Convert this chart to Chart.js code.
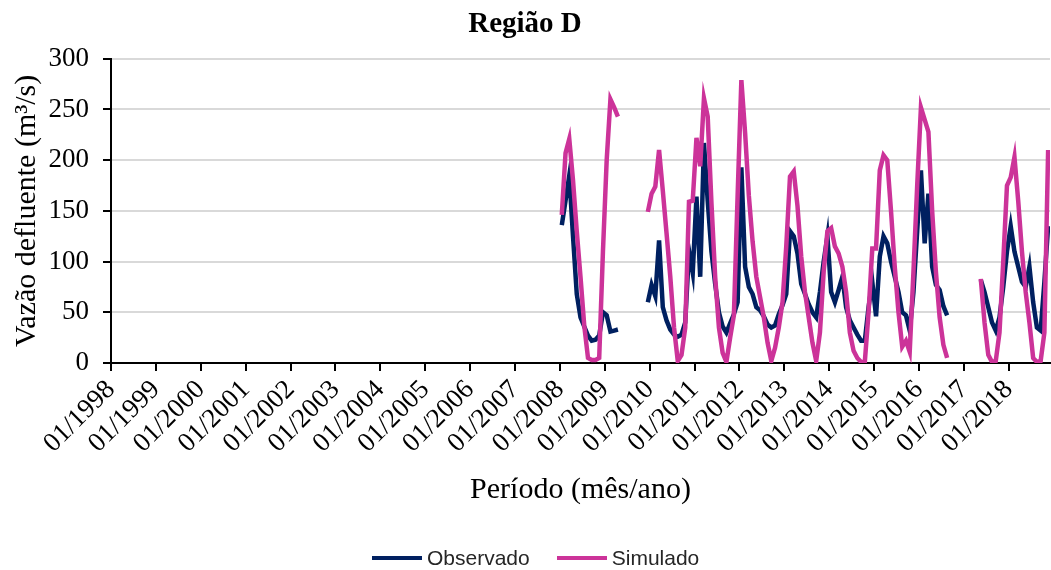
<!DOCTYPE html>
<html><head><meta charset="utf-8">
<script src="https://cdn.jsdelivr.net/npm/chart.js@4.4.1/dist/chart.umd.min.js"></script>
<style>
html,body{margin:0;padding:0;background:#fff;overflow:hidden;}
#wrap{position:relative;width:1051px;height:570px;}
#legend{position:absolute;left:372px;top:545px;height:26px;display:flex;align-items:center;gap:27px;font-family:'Liberation Sans',Arial,sans-serif;font-size:21px;color:#262626;}
.item{display:flex;align-items:center;gap:5px;}
.swatch{width:50px;height:4px;display:inline-block;}
</style></head><body>
<div id="wrap"><canvas id="c" width="1051" height="570"></canvas><div id="legend"></div></div>
<script>
const tickLabels = ['01/1998','01/1999','01/2000','01/2001','01/2002','01/2003','01/2004','01/2005','01/2006','01/2007','01/2008','01/2009','01/2010','01/2011','01/2012','01/2013','01/2014','01/2015','01/2016','01/2017','01/2018'];
const dataStart = '01/2008';
const seriesNames = ['Observado', 'Simulado'];
const seriesColors = ['#002060', '#CC3399'];

// monthly values from 01/2008 to 11/2018 (null = no data)
const observado = [
  136,160,185,125,68,45,36,27,22,23,27,50,
  47,31,32,33,null,null,null,null,null,null,null,60,
  77,66,121,55,42,33,28,26,28,40,111,89,
  164,85,217,160,110,78,50,36,30,39,48,60,
  193,95,75,68,55,52,46,38,35,37,48,57,
  68,130,125,108,78,68,58,50,45,70,100,125,
  70,60,72,85,55,42,35,28,22,22,55,80,
  46,105,125,118,100,85,70,50,47,32,70,130,
  190,118,167,95,77,72,56,47,null,null,null,null,
  null,null,null,null,82,70,55,40,32,45,75,110,
  135,110,95,80,75,95,60,35,32,80,135
];
const simulado = [
  146,207,221,180,130,85,37,5,3,3,5,110,
  200,260,252,243,null,null,null,null,null,null,null,149,
  167,174,210,170,128,85,35,2,8,35,159,160,
  222,194,261,243,158,85,35,10,1,25,47,165,
  279,227,165,120,85,65,45,20,2,15,35,60,
  115,184,189,155,105,70,45,20,2,30,90,130,
  133,115,108,95,70,30,12,5,1,1,50,113,
  113,190,205,200,150,95,50,16,22,11,90,175,
  252,240,228,150,90,45,18,5,null,null,null,null,
  null,null,null,null,83,40,8,1,2,30,100,175,
  183,203,160,110,70,40,5,1,2,30,210
];

const startIdx = tickLabels.indexOf(dataStart) * 12;
const toPoints = arr => arr.map((v, i) => ({x: startIdx + i, y: v}));
const serif = 'Liberation Serif, Times New Roman, serif';

const legend = document.getElementById('legend');
seriesNames.forEach((n, i) => {
  const it = document.createElement('div'); it.className = 'item';
  const sw = document.createElement('span'); sw.className = 'swatch'; sw.style.background = seriesColors[i];
  const tx = document.createElement('span'); tx.textContent = n;
  it.appendChild(sw); it.appendChild(tx); legend.appendChild(it);
});

new Chart(document.getElementById('c'), {
  type: 'line',
  data: {
    datasets: [
      {label: seriesNames[0], data: toPoints(observado), borderColor: seriesColors[0], backgroundColor: seriesColors[0], borderWidth: 4.5, pointRadius: 0, tension: 0, spanGaps: false, order: 1},
      {label: seriesNames[1], data: toPoints(simulado), borderColor: seriesColors[1], backgroundColor: seriesColors[1], borderWidth: 4.5, pointRadius: 0, tension: 0, spanGaps: false, order: 0}
    ]
  },
  options: {
    responsive: false, animation: false, devicePixelRatio: 1,
    layout: {padding: {left: 0, right: 1, top: 0, bottom: 50}},
    plugins: {
      legend: {display: false}, tooltip: {enabled: false},
      title: {display: true, text: 'Região D', color: '#000', font: {family: serif, size: 29, weight: 'bold'}, padding: {top: 7, bottom: 17}}
    },
    scales: {
      x: {
        type: 'linear', min: -0.5, max: startIdx + observado.length - 0.5,
        afterFit: s => { s.height = 157; },
        afterBuildTicks: s => { s.ticks = tickLabels.map((_, k) => ({value: k * 12 - 0.5})); },
        ticks: {autoSkip: false, minRotation: 45, maxRotation: 45, color: '#000', font: {family: serif, size: 27}, padding: 3,
          callback: (v, i) => tickLabels[i]},
        grid: {display: true, drawOnChartArea: false, drawTicks: true, tickLength: 8, tickColor: '#000', lineWidth: 2},
        border: {display: true, color: '#000', width: 2},
        title: {display: true, text: 'Período (mês/ano)', color: '#000', font: {family: serif, size: 30}, padding: {top: 0, bottom: 12}}
      },
      y: {
        min: 0, max: 300,
        afterFit: s => { s.width = 111; },
        ticks: {stepSize: 50, color: '#000', font: {family: serif, size: 27}, padding: 14},
        grid: {color: '#d9d9d9', lineWidth: 2, drawTicks: true, tickLength: 8, tickColor: '#000'},
        border: {display: true, color: '#000', width: 2},
        title: {display: true, text: 'Vazão defluente (m³/s)', color: '#000', font: {family: serif, size: 30}, padding: {top: 9, bottom: 0}}
      }
    }
  }
});
</script>
</body></html>
